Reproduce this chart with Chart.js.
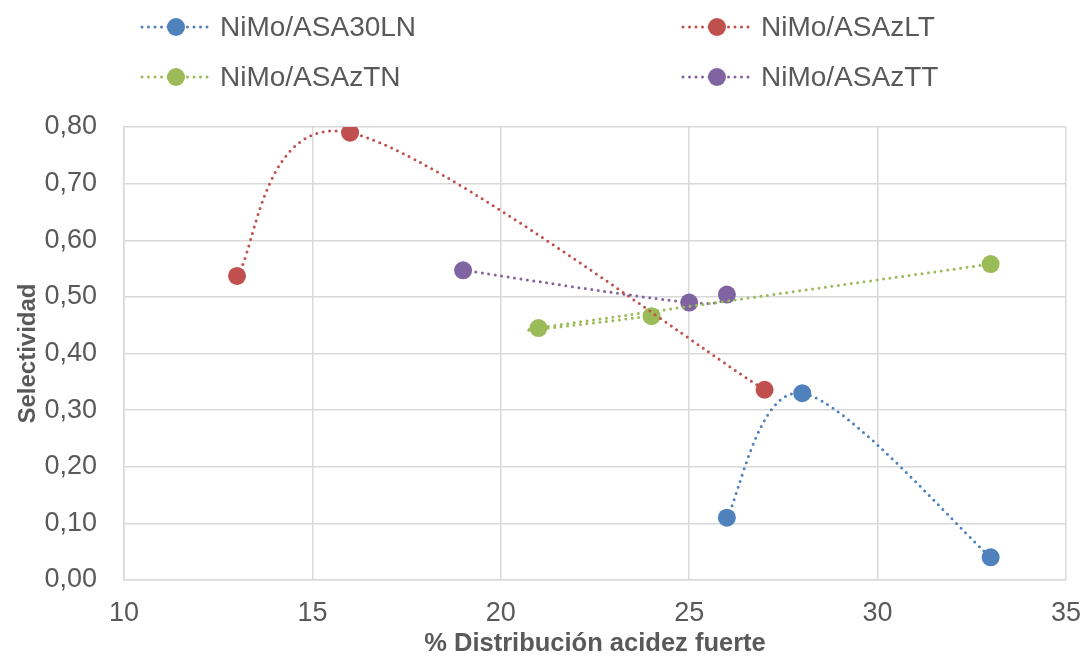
<!DOCTYPE html>
<html>
<head>
<meta charset="utf-8">
<script src="https://cdn.jsdelivr.net/npm/chart.js@4/dist/chart.umd.min.js"></script>
<style>
    html, body { margin: 0; padding: 0; background: #ffffff; }
    #wrap { width: 1081px; height: 658px; }
</style>
</head>
<body>
<div id="wrap"><canvas id="selChart" width="1081" height="658"></canvas></div>
<script>
// series names
const seriesNames = ["NiMo/ASA30LN", "NiMo/ASAzLT", "NiMo/ASAzTN", "NiMo/ASAzTT"];
const seriesColors = ["#4F81BD", "#C0504D", "#9BBB59", "#8064A2"];

// % distribución acidez fuerte (x) and selectividad (y), in entry order
const xASA30LN = [26, 28, 33];
const yASA30LN = [0.11, 0.33, 0.04];

const xASAzLT = [13, 16, 27];
const yASAzLT = [0.537, 0.79, 0.336];

const xASAzTN = [24, 21, 33];
const yASAzTN = [0.466, 0.445, 0.558];

const xASAzTT = [19, 25, 26];
const yASAzTT = [0.547, 0.49, 0.504];

const xTicks = [10, 15, 20, 25, 30, 35];
const yTicks = [0, 0.1, 0.2, 0.3, 0.4, 0.5, 0.6, 0.7, 0.8];

const FONT = "'Liberation Sans', Arial, sans-serif";
const TEXT = "#595959";
const GRID = "#D9D9D9";

const toPoints = (xs, ys) => xs.map((x, i) => ({ x: x, y: ys[i] }));
const seriesData = [
    toPoints(xASA30LN, yASA30LN),
    toPoints(xASAzLT, yASAzLT),
    toPoints(xASAzTN, yASAzTN),
    toPoints(xASAzTT, yASAzTT),
];

// smoothed lines: uniform Catmull-Rom control points (1/6 of the chord
// between neighbours) instead of Chart.js' distance-weighted tension
const catmullRom = {
    id: "catmullRom",
    beforeDatasetDraw(chart, args) {
        const line = args.meta.dataset;
        const pts = args.meta.data;
        const n = pts.length;

        pts.forEach((p, i) => {
            const prev = pts[Math.max(i - 1, 0)];
            const next = pts[Math.min(i + 1, n - 1)];
            const dx = (next.x - prev.x) / 6;
            const dy = (next.y - prev.y) / 6;
            p.cp1x = p.x - dx;
            p.cp1y = p.y - dy;
            p.cp2x = p.x + dx;
            p.cp2y = p.y + dy;
        });

        line._pointsUpdated = true;
    },
};

// two-column legend above the plot
const legendGrid = {
    id: "legendGrid",
    afterDraw(chart) {
        const { ctx } = chart;
        const cols = [142, 683];
        const rows = [27, 77];

        chart.data.datasets.forEach((ds, i) => {
            const x0 = cols[i % 2];
            const y0 = rows[Math.floor(i / 2)];

            ctx.save();
            ctx.strokeStyle = ds.borderColor;
            ctx.lineWidth = 3;
            ctx.lineCap = "round";
            ctx.setLineDash([0, 6.5]);
            ctx.beginPath();
            ctx.moveTo(x0, y0);
            ctx.lineTo(x0 + 68, y0);
            ctx.stroke();
            ctx.setLineDash([]);

            ctx.fillStyle = ds.backgroundColor;
            ctx.beginPath();
            ctx.arc(x0 + 34, y0, 9, 0, Math.PI * 2);
            ctx.fill();

            ctx.fillStyle = TEXT;
            ctx.font = "28px " + FONT;
            ctx.textBaseline = "middle";
            ctx.textAlign = "left";
            ctx.fillText(ds.label, x0 + 78, y0 + 1);
            ctx.restore();
        });
    },
};

new Chart(document.getElementById("selChart"), {
    type: "scatter",

    data: {
        datasets: seriesNames.map((name, i) => ({
            label: name,
            data: seriesData[i],
            showLine: true,
            tension: 0.4,
            borderColor: seriesColors[i],
            backgroundColor: seriesColors[i],
            borderWidth: 3,
            borderDash: [0, 6.5],
            borderCapStyle: "round",
            pointRadius: 9,
            pointHoverRadius: 9,
            pointBorderWidth: 0,
            pointBackgroundColor: seriesColors[i],
        })),
    },

    options: {
        responsive: false,
        animation: false,
        devicePixelRatio: 1,

        layout: {
            padding: { top: 127, right: 15, bottom: 0, left: 0 },
        },

        plugins: {
            legend: { display: false },
            tooltip: { enabled: false },
        },

        scales: {
            x: {
                type: "linear",
                min: 10,
                max: 35,
                afterFit: (s) => {
                    s.height = 78;
                    s.paddingLeft = 0;
                    s.paddingRight = 0;
                },
                afterBuildTicks: (s) => { s.ticks = xTicks.map((v) => ({ value: v })); },
                grid: { color: GRID, lineWidth: 1.5, drawTicks: false },
                border: { color: GRID, width: 1.5 },
                ticks: {
                    padding: 17,
                    color: TEXT,
                    font: { family: FONT, size: 27 },
                    maxRotation: 0,
                },
                title: {
                    display: true,
                    text: "% Distribución acidez fuerte",
                    color: TEXT,
                    font: { family: FONT, size: 25.5, weight: "bold", lineHeight: 1 },
                    padding: { top: 0, bottom: 1 },
                },
            },

            y: {
                type: "linear",
                min: 0,
                max: 0.8,
                afterFit: (s) => { s.width = 124; },
                afterBuildTicks: (s) => { s.ticks = yTicks.map((v) => ({ value: v })); },
                grid: { color: GRID, lineWidth: 1.5, drawTicks: false },
                border: { color: GRID, width: 1.5 },
                ticks: {
                    padding: 27,
                    color: TEXT,
                    font: { family: FONT, size: 27 },
                    callback: (v) => v.toFixed(2).replace(".", ","),
                },
                title: {
                    display: true,
                    text: "Selectividad",
                    color: TEXT,
                    font: { family: FONT, size: 24, weight: "bold", lineHeight: 1 },
                    padding: { top: 16, bottom: 0 },
                },
            },
        },
    },

    plugins: [catmullRom, legendGrid],
});
</script>
</body>
</html>
